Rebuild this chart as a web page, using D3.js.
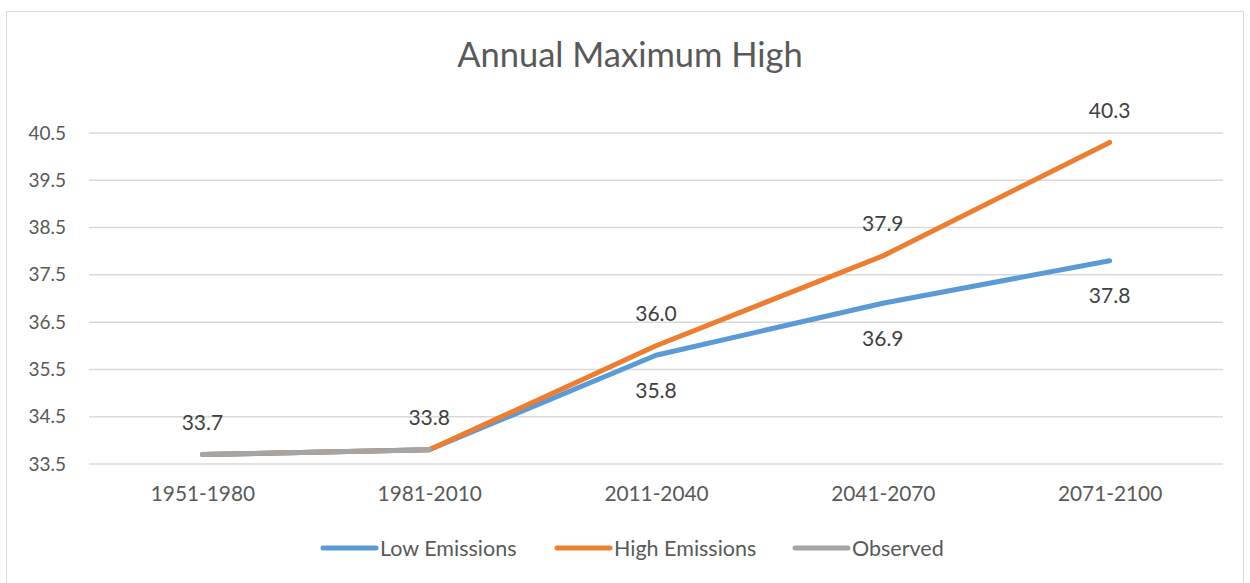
<!DOCTYPE html>
<html>
<head>
<meta charset="utf-8">
<script src="https://cdnjs.cloudflare.com/ajax/libs/d3/7.8.5/d3.min.js"></script>
<style>
  html, body { margin: 0; padding: 0; background: #fff; }
  svg { display: block; font-family: Lato, "Open Sans", sans-serif; }
</style>
</head>
<body>
<svg id="chart" width="1250" height="583"></svg>
<script>
// Period categories along the x axis
const periods = ["1951-1980", "1981-2010", "2011-2040", "2041-2070", "2071-2100"];

// Series values (degrees), null where a series has no value
const lowEmissions  = [33.7, 33.8, 35.8, 36.9, 37.8];
const highEmissions = [33.7, 33.8, 36.0, 37.9, 40.3];
const observed      = [33.7, 33.8, null, null, null];

// Y axis tick values
const yTicks = [33.5, 34.5, 35.5, 36.5, 37.5, 38.5, 39.5, 40.5];

const seriesNames  = ["Low Emissions", "High Emissions", "Observed"];
const seriesColors = ["#5b9bd5", "#ed7d31", "#a5a5a5"];

const series = [
  { name: seriesNames[0], color: seriesColors[0], values: lowEmissions,  labelPos: "below", labelFrom: 2 },
  { name: seriesNames[1], color: seriesColors[1], values: highEmissions, labelPos: "above", labelFrom: 2 },
  { name: seriesNames[2], color: seriesColors[2], values: observed,      labelPos: "above", labelFrom: 0 }
];

const svg = d3.select("#chart");
const W = 1250, H = 583;

// Chart frame
svg.append("rect")
  .attr("x", 6.5).attr("y", 11.5)
  .attr("width", W - 13).attr("height", H)
  .attr("fill", "#fff").attr("stroke", "#d9d9d9").attr("stroke-width", 1);

const plot = { left: 89, right: 1223, top: 133, bottom: 464 };

const x = d3.scalePoint().domain(periods).range([plot.left, plot.right]).padding(0.5);
const y = d3.scaleLinear().domain([33.5, 40.5]).range([plot.bottom, plot.top]);

// Title
svg.append("text")
  .attr("x", 630).attr("y", 67)
  .attr("text-anchor", "middle")
  .attr("font-size", 34.5)
  .attr("fill", "#595959")
  .text("Annual Maximum High");

// Horizontal gridlines
svg.append("g")
  .selectAll("line").data(yTicks).join("line")
  .attr("x1", plot.left).attr("x2", plot.right)
  .attr("y1", d => y(d)).attr("y2", d => y(d))
  .attr("stroke", "#d9d9d9").attr("stroke-width", 1.5);

// Y axis labels
const yAxis = d3.axisLeft(y).tickValues(yTicks).tickFormat(d3.format(".1f")).tickSize(0).tickPadding(0);
const gy = svg.append("g").attr("transform", `translate(66,0)`).call(yAxis);
gy.select(".domain").remove();
gy.selectAll("text").attr("font-size", 19).attr("fill", "#595959").attr("font-family", "Lato, sans-serif");

// X axis labels
const xAxis = d3.axisBottom(x).tickSize(0).tickPadding(0);
const gx = svg.append("g").attr("transform", `translate(0,486)`).call(xAxis);
gx.select(".domain").remove();
gx.selectAll("text").attr("font-size", 20.8).attr("fill", "#595959").attr("font-family", "Lato, sans-serif");

// Series lines
const line = d3.line()
  .defined(d => d.v != null)
  .x(d => x(d.p))
  .y(d => y(d.v));

const gLines = svg.append("g");
series.forEach(s => {
  const pts = periods.map((p, i) => ({ p, v: s.values[i] }));
  gLines.append("path")
    .datum(pts)
    .attr("d", line)
    .attr("fill", "none")
    .attr("stroke", s.color)
    .attr("stroke-width", 5)
    .attr("stroke-linecap", "round")
    .attr("stroke-linejoin", "round");
});

// Data labels
const gLabels = svg.append("g");
series.forEach(s => {
  periods.forEach((p, i) => {
    const v = s.values[i];
    if (v == null || i < s.labelFrom) return;
    const dy = s.labelPos === "above" ? -33 : 34;
    gLabels.append("text")
      .attr("x", x(p))
      .attr("y", y(v) + dy)
      .attr("text-anchor", "middle")
      .attr("dominant-baseline", "central")
      .attr("font-size", 21)
      .attr("fill", "#404040")
      .text(d3.format(".1f")(v));
  });
});

// Legend
const legendItems = [
  { name: seriesNames[0], color: seriesColors[0], x0: 323 },
  { name: seriesNames[1], color: seriesColors[1], x0: 557 },
  { name: seriesNames[2], color: seriesColors[2], x0: 795 }
];
const gLegend = svg.append("g");
legendItems.forEach(d => {
  gLegend.append("line")
    .attr("x1", d.x0).attr("x2", d.x0 + 53)
    .attr("y1", 548).attr("y2", 548)
    .attr("stroke", d.color).attr("stroke-width", 5)
    .attr("stroke-linecap", "round");
  gLegend.append("text")
    .attr("x", d.x0 + 57).attr("y", 548)
    .attr("dominant-baseline", "central")
    .attr("font-size", 21.5)
    .attr("fill", "#595959")
    .text(d.name);
});
</script>
</body>
</html>
